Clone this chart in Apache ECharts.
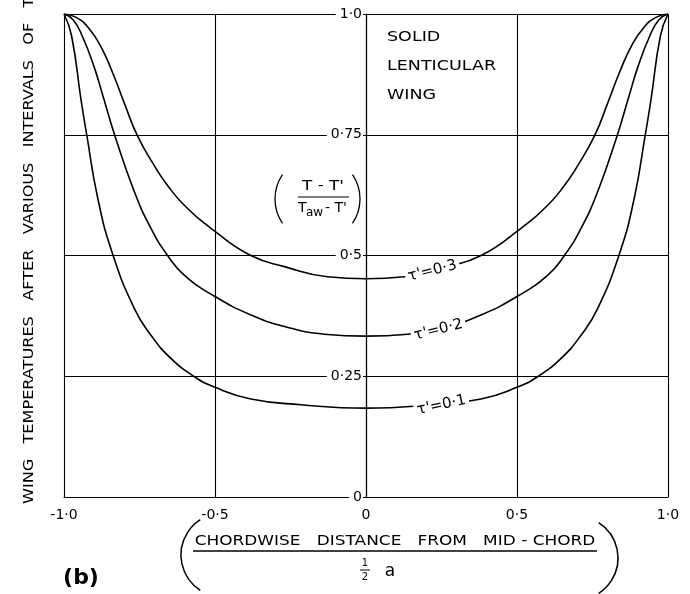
<!DOCTYPE html>
<html><head><meta charset="utf-8">
<script src="https://cdn.jsdelivr.net/npm/echarts@6/dist/echarts.min.js"></script>
<style>html,body{margin:0;padding:0;background:#fff}#c{width:690px;height:594px}</style>
</head><body><div id="c"></div>
<script>
// ---- tick labels ----
const xTicks = [-1, -0.5, 0, 0.5, 1];
const xTickLabels = ['-1·0', '-0·5', '0', '0·5', '1·0'];
const yTicks = [0, 0.25, 0.5, 0.75, 1];
const yTickLabels = ['0', '0·25', '0·5', '0·75', '1·0'];

// ---- curve τ' = 0.3 ----
const x03 = [-1, -0.96, -0.92, -0.88, -0.84, -0.8, -0.757, -0.7, -0.657, -0.6, -0.5, -0.381, -0.27, -0.127, 0,
             0.127, 0.27, 0.381, 0.5, 0.6, 0.657, 0.7, 0.757, 0.8, 0.84, 0.88, 0.92, 0.96, 1];
const y03 = [1.0, 0.993, 0.972, 0.935, 0.88, 0.815, 0.748, 0.685, 0.645, 0.603, 0.55, 0.5, 0.477, 0.456, 0.452,
             0.456, 0.477, 0.5, 0.55, 0.603, 0.645, 0.685, 0.748, 0.815, 0.88, 0.935, 0.972, 0.993, 1.0];

// ---- curve τ' = 0.2 ----
const x02 = [-1, -0.97, -0.94, -0.9, -0.87, -0.831, -0.767, -0.712, -0.657, -0.601, -0.5, -0.381, -0.27, -0.138, 0,
             0.138, 0.27, 0.381, 0.5, 0.601, 0.657, 0.712, 0.767, 0.831, 0.87, 0.9, 0.94, 0.97, 1];
const y02 = [1.0, 0.988, 0.955, 0.89, 0.828, 0.747, 0.632, 0.556, 0.5, 0.459, 0.415, 0.377, 0.353, 0.337, 0.333,
             0.337, 0.353, 0.377, 0.415, 0.459, 0.5, 0.556, 0.632, 0.747, 0.828, 0.89, 0.955, 0.988, 1.0];

// ---- curve τ' = 0.1 ----
const x01 = [-1, -0.975, -0.944, -0.924, -0.888, -0.84, -0.767, -0.712, -0.646, -0.568, -0.5, -0.381, -0.215, 0,
             0.215, 0.381, 0.5, 0.568, 0.646, 0.712, 0.767, 0.84, 0.888, 0.924, 0.944, 0.975, 1];
const y01 = [1.0, 0.955, 0.824, 0.747, 0.618, 0.505, 0.39, 0.335, 0.287, 0.249, 0.227, 0.203, 0.191, 0.184,
             0.191, 0.203, 0.227, 0.249, 0.287, 0.335, 0.39, 0.505, 0.618, 0.747, 0.824, 0.955, 1.0];

const curveNames = ["τ'=0·3", "τ'=0·2", "τ'=0·1"];

const FONT = 'DejaVu Sans';
function pairs(xs, ys) { return xs.map((x, i) => [x, ys[i]]); }
function tickLabel(ticks, labels, v) {
  const i = ticks.findIndex(t => Math.abs(t - v) < 1e-9);
  return i >= 0 ? labels[i] : '';
}

function curve(name, xs, ys, labelCoord, rot) {
  return {
    type: 'line', name: name, data: pairs(xs, ys), smooth: 0.5,
    showSymbol: false, symbol: 'none', silent: true,
    lineStyle: { color: '#000', width: 1.6 },
    z: 3,
    markPoint: {
      symbol: 'rect', symbolSize: 1, silent: true,
      itemStyle: { color: 'rgba(0,0,0,0)' },
      data: [{ coord: labelCoord, value: name,
        label: { show: true, formatter: name, position: 'inside', color: '#000',
                 fontFamily: FONT, fontSize: 15, rotate: rot, backgroundColor: '#fff', padding: [1, 3] } }],
      z: 10
    }
  };
}

const GRID_LEFT = 64, GRID_RIGHT = 22, CHART_W = 690;
const gridW = CHART_W - GRID_LEFT - GRID_RIGHT;

const chart = echarts.init(document.getElementById('c'));
const black = '#000';
chart.setOption({
  animation: false,
  backgroundColor: '#fff',
  grid: { left: GRID_LEFT, right: GRID_RIGHT, top: 14, bottom: 97, containLabel: false },
  xAxis: {
    type: 'value', min: -1, max: 1, interval: 0.5,
    axisLine: { show: true, onZero: false, lineStyle: { color: black, width: 1.2 } },
    axisTick: { show: false },
    axisLabel: { color: black, fontFamily: FONT, fontSize: 14, margin: 11,
                 formatter: v => tickLabel(xTicks, xTickLabels, v) },
    splitLine: { show: true, lineStyle: { color: black, width: 1.1 } }
  },
  yAxis: {
    type: 'value', min: 0, max: 1, interval: 0.25,
    position: 'left', offset: -gridW / 2,
    axisLine: { show: true, onZero: false, lineStyle: { color: black, width: 1.2 } },
    axisTick: { show: false },
    axisLabel: { color: black, fontFamily: FONT, fontSize: 14, margin: 3,
                 backgroundColor: '#fff', padding: [0, 1, 0, 4],
                 formatter: v => tickLabel(yTicks, yTickLabels, v) },
    splitLine: { show: true, lineStyle: { color: black, width: 1.1 } },
    z: 5
  },
  series: [
    curve(curveNames[0], x03, y03, [0.22, 0.468], 14),
    curve(curveNames[1], x02, y02, [0.24, 0.346], 14),
    curve(curveNames[2], x01, y01, [0.25, 0.19], 12)
  ],
  graphic: [
    { type: 'text', x: 29, y: 504, rotation: Math.PI / 2, scaleX: 1.15, z: 20,
      style: { text: 'WING   TEMPERATURES   AFTER   VARIOUS   INTERVALS   OF   TIME',
               font: '14px "DejaVu Sans"', fill: black, textAlign: 'left', textVerticalAlign: 'middle' } },
    { type: 'text', x: 387, y: 37, scaleX: 1.25, z: 20,
      style: { text: 'SOLID', font: '14px "DejaVu Sans"', fill: black, textVerticalAlign: 'middle' } },
    { type: 'text', x: 387, y: 66, scaleX: 1.25, z: 20,
      style: { text: 'LENTICULAR', font: '14px "DejaVu Sans"', fill: black, textVerticalAlign: 'middle' } },
    { type: 'text', x: 387, y: 95, scaleX: 1.25, z: 20,
      style: { text: 'WING', font: '14px "DejaVu Sans"', fill: black, textVerticalAlign: 'middle' } },
    // fraction label (T - T') / (Taw - T')
    { type: 'text', x: 323, y: 186, scaleX: 1.2, z: 20,
      style: { text: "T - T'", font: '14px "DejaVu Sans"', fill: black, textAlign: 'center', textVerticalAlign: 'middle' } },
    { type: 'line', z: 20, shape: { x1: 298, y1: 197, x2: 349, y2: 197 }, style: { stroke: black, lineWidth: 1.2 } },
    { type: 'text', x: 298, y: 208, z: 20,
      style: { text: 'T', font: '14px "DejaVu Sans"', fill: black, textVerticalAlign: 'middle' } },
    { type: 'text', x: 306, y: 213, z: 20,
      style: { text: 'aw', font: '12px "DejaVu Sans"', fill: black, textVerticalAlign: 'middle' } },
    { type: 'text', x: 325, y: 208, z: 20,
      style: { text: "- T'", font: '14px "DejaVu Sans"', fill: black, textVerticalAlign: 'middle' } },
    { type: 'arc', z: 20, shape: { cx: 318, cy: 199, r: 43, startAngle: Math.PI - 0.6, endAngle: Math.PI + 0.6, clockwise: true },
      style: { stroke: black, lineWidth: 1.3, fill: null } },
    { type: 'arc', z: 20, shape: { cx: 317, cy: 199, r: 43, startAngle: -0.6, endAngle: 0.6, clockwise: true },
      style: { stroke: black, lineWidth: 1.3, fill: null } },
    // x-axis title
    { type: 'text', x: 395, y: 541, scaleX: 1.21, z: 20,
      style: { text: 'CHORDWISE   DISTANCE   FROM   MID - CHORD', font: '14px "DejaVu Sans"', fill: black,
               textAlign: 'center', textVerticalAlign: 'middle' } },
    { type: 'line', z: 20, shape: { x1: 193, y1: 551, x2: 597, y2: 551 }, style: { stroke: black, lineWidth: 1.3 } },
    { type: 'text', x: 365, y: 563, z: 20,
      style: { text: '1', font: '10px "DejaVu Sans"', fill: black, textAlign: 'center', textVerticalAlign: 'middle' } },
    { type: 'line', z: 20, shape: { x1: 360, y1: 570, x2: 370, y2: 570 }, style: { stroke: black, lineWidth: 1 } },
    { type: 'text', x: 365, y: 577, z: 20,
      style: { text: '2', font: '10px "DejaVu Sans"', fill: black, textAlign: 'center', textVerticalAlign: 'middle' } },
    { type: 'text', x: 390, y: 572, z: 20,
      style: { text: 'a', font: '17px "DejaVu Sans"', fill: black, textAlign: 'center', textVerticalAlign: 'middle' } },
    { type: 'arc', z: 20, shape: { cx: 223, cy: 555, r: 42, startAngle: Math.PI - 1.0, endAngle: Math.PI + 1.0, clockwise: true },
      style: { stroke: black, lineWidth: 1.5, fill: null } },
    { type: 'arc', z: 20, shape: { cx: 576, cy: 558, r: 42, startAngle: -1.0, endAngle: 1.0, clockwise: true },
      style: { stroke: black, lineWidth: 1.5, fill: null } },
    { type: 'text', x: 81, y: 578, z: 20,
      style: { text: '(b)', font: 'bold 22px "DejaVu Sans"', fill: black, textAlign: 'center', textVerticalAlign: 'middle' } }
  ]
});
</script>
</body></html>
